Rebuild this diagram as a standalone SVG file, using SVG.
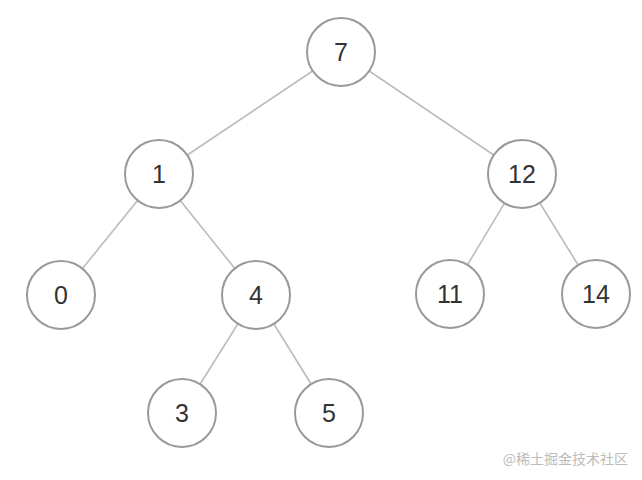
<svg xmlns="http://www.w3.org/2000/svg" width="642" height="480" viewBox="0 0 642 480">
<style>
.n circle{fill:#fff;stroke:#999;stroke-width:2}
.n text{font-family:"Liberation Sans","Noto Sans",sans-serif;font-size:25px;fill:#333;text-anchor:middle;dominant-baseline:central}
.e line{stroke:#bbb;stroke-width:1.6}
.wm{font-family:"Noto Sans CJK SC",sans-serif;font-size:14px;fill:#bbb}
</style>
<rect width="642" height="480" fill="#fff"/>
<g id="edges" class="e">
<line x1="341" y1="52" x2="159" y2="174"/>
<line x1="341" y1="52" x2="522" y2="174"/>
<line x1="159" y1="174" x2="61" y2="295"/>
<line x1="159" y1="174" x2="256" y2="295"/>
<line x1="522" y1="174" x2="450" y2="294"/>
<line x1="522" y1="174" x2="596" y2="294"/>
<line x1="256" y1="295" x2="182" y2="413"/>
<line x1="256" y1="295" x2="329" y2="413"/>
</g>
<g id="n7" class="n"><circle cx="341" cy="52" r="34"/><text x="341" y="52">7</text></g>
<g id="n1" class="n"><circle cx="159" cy="174" r="34"/><text x="159" y="174">1</text></g>
<g id="n12" class="n"><circle cx="522" cy="174" r="34"/><text x="522" y="174">12</text></g>
<g id="n0" class="n"><circle cx="61" cy="295" r="34"/><text x="61" y="295">0</text></g>
<g id="n4" class="n"><circle cx="256" cy="295" r="34"/><text x="256" y="295">4</text></g>
<g id="n11" class="n"><circle cx="450" cy="294" r="34"/><text x="450" y="294">11</text></g>
<g id="n14" class="n"><circle cx="596" cy="294" r="34"/><text x="596" y="294">14</text></g>
<g id="n3" class="n"><circle cx="182" cy="413" r="34"/><text x="182" y="413">3</text></g>
<g id="n5" class="n"><circle cx="329" cy="413" r="34"/><text x="329" y="413">5</text></g>
<text class="wm" x="628" y="464" text-anchor="end">@稀土掘金技术社区</text>
</svg>
